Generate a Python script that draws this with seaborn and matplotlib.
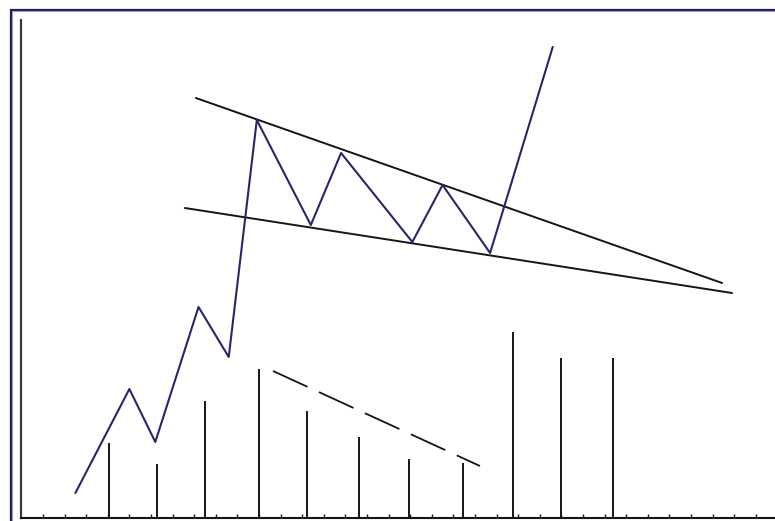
import matplotlib
matplotlib.use("Agg")
import matplotlib.pyplot as plt
import seaborn as sns
import pandas as pd
from matplotlib.patches import Rectangle

# --- datos (unidades: x = marcas del eje, y = escala 0-100) ---
precio_x = [2.5, 5.0, 6.2, 8.2, 9.6, 10.9, 13.4, 14.8, 18.1, 19.5, 21.7, 24.6]
precio_y = [4.9, 25.7, 15.1, 42.1, 32.1, 79.5, 58.5, 72.9, 55.1, 66.5, 52.9, 94.1]

volumen_x = [4.06, 6.28, 8.5, 11.0, 13.22, 15.63, 17.94, 20.44, 22.76, 24.98, 27.39]
volumen_y = [14.9, 10.7, 23.3, 29.7, 21.3, 16.1, 11.7, 10.9, 37.1, 31.9, 31.9]

resist_x = [8.08, 32.44]
resist_y = [83.9, 46.9]
soporte_x = [7.57, 32.9]
soporte_y = [61.9, 44.9]
vol_tend_x = [11.65, 21.23]
vol_tend_y = [29.3, 10.3]

marcas_x = list(range(1, 35))

# --- estilo ---
sns.set_theme(style="white")
AZUL = "#26266e"
NEGRO = "#151515"

fig = plt.figure(figsize=(7.75, 5.21), dpi=100)
ax = fig.add_axes([0, 0, 1, 1])
ax.set_facecolor("white")

df_precio = pd.DataFrame({"x": precio_x, "y": precio_y})
sns.lineplot(data=df_precio, x="x", y="y", sort=False, ax=ax,
             color=AZUL, linewidth=1.5, zorder=4)

# líneas de tendencia del banderín
sns.lineplot(x=resist_x, y=resist_y, ax=ax, color=NEGRO, linewidth=1.4, zorder=3)
sns.lineplot(x=soporte_x, y=soporte_y, ax=ax, color=NEGRO, linewidth=1.4, zorder=3)
ax.plot(vol_tend_x, vol_tend_y, color=NEGRO, linewidth=1.3,
        dashes=(21, 7), zorder=3)

# volumen
ax.vlines(volumen_x, 0, volumen_y, color=NEGRO, linewidth=1.4, zorder=2)

ax.set_xlim(-0.99, 34.89)
ax.set_ylim(-0.7, 103.5)

for s in ["top", "right"]:
    ax.spines[s].set_visible(False)
ax.spines["left"].set_position(("data", 0))
ax.spines["left"].set_bounds(0, 99.5)
ax.spines["left"].set_color("#3a3a3a")
ax.spines["left"].set_linewidth(1.6)
ax.spines["bottom"].set_position(("data", 0))
ax.spines["bottom"].set_bounds(0, 34.89)
ax.spines["bottom"].set_color(NEGRO)
ax.spines["bottom"].set_linewidth(1.5)

ax.set_xticks(marcas_x)
ax.set_xticklabels([])
ax.set_yticks([])
ax.tick_params(axis="x", direction="in", length=3, width=1, color=NEGRO,
               bottom=True)
ax.set_xlabel("")
ax.set_ylabel("")

# marco azul de la imagen
fig.add_artist(Rectangle((10.5 / 775, -0.1), 1.2, 1 - 9.5 / 521 + 0.1,
                         transform=fig.transFigure, fill=False,
                         edgecolor="#1c1c66", linewidth=1.6, zorder=10))
fig.add_artist(Rectangle((12.0 / 775, -0.1), 1.2, 1 - 11.0 / 521 + 0.1,
                         transform=fig.transFigure, fill=False,
                         edgecolor="#9a9ad0", linewidth=0.8, zorder=10))

fig.savefig("out.png", dpi=100)
